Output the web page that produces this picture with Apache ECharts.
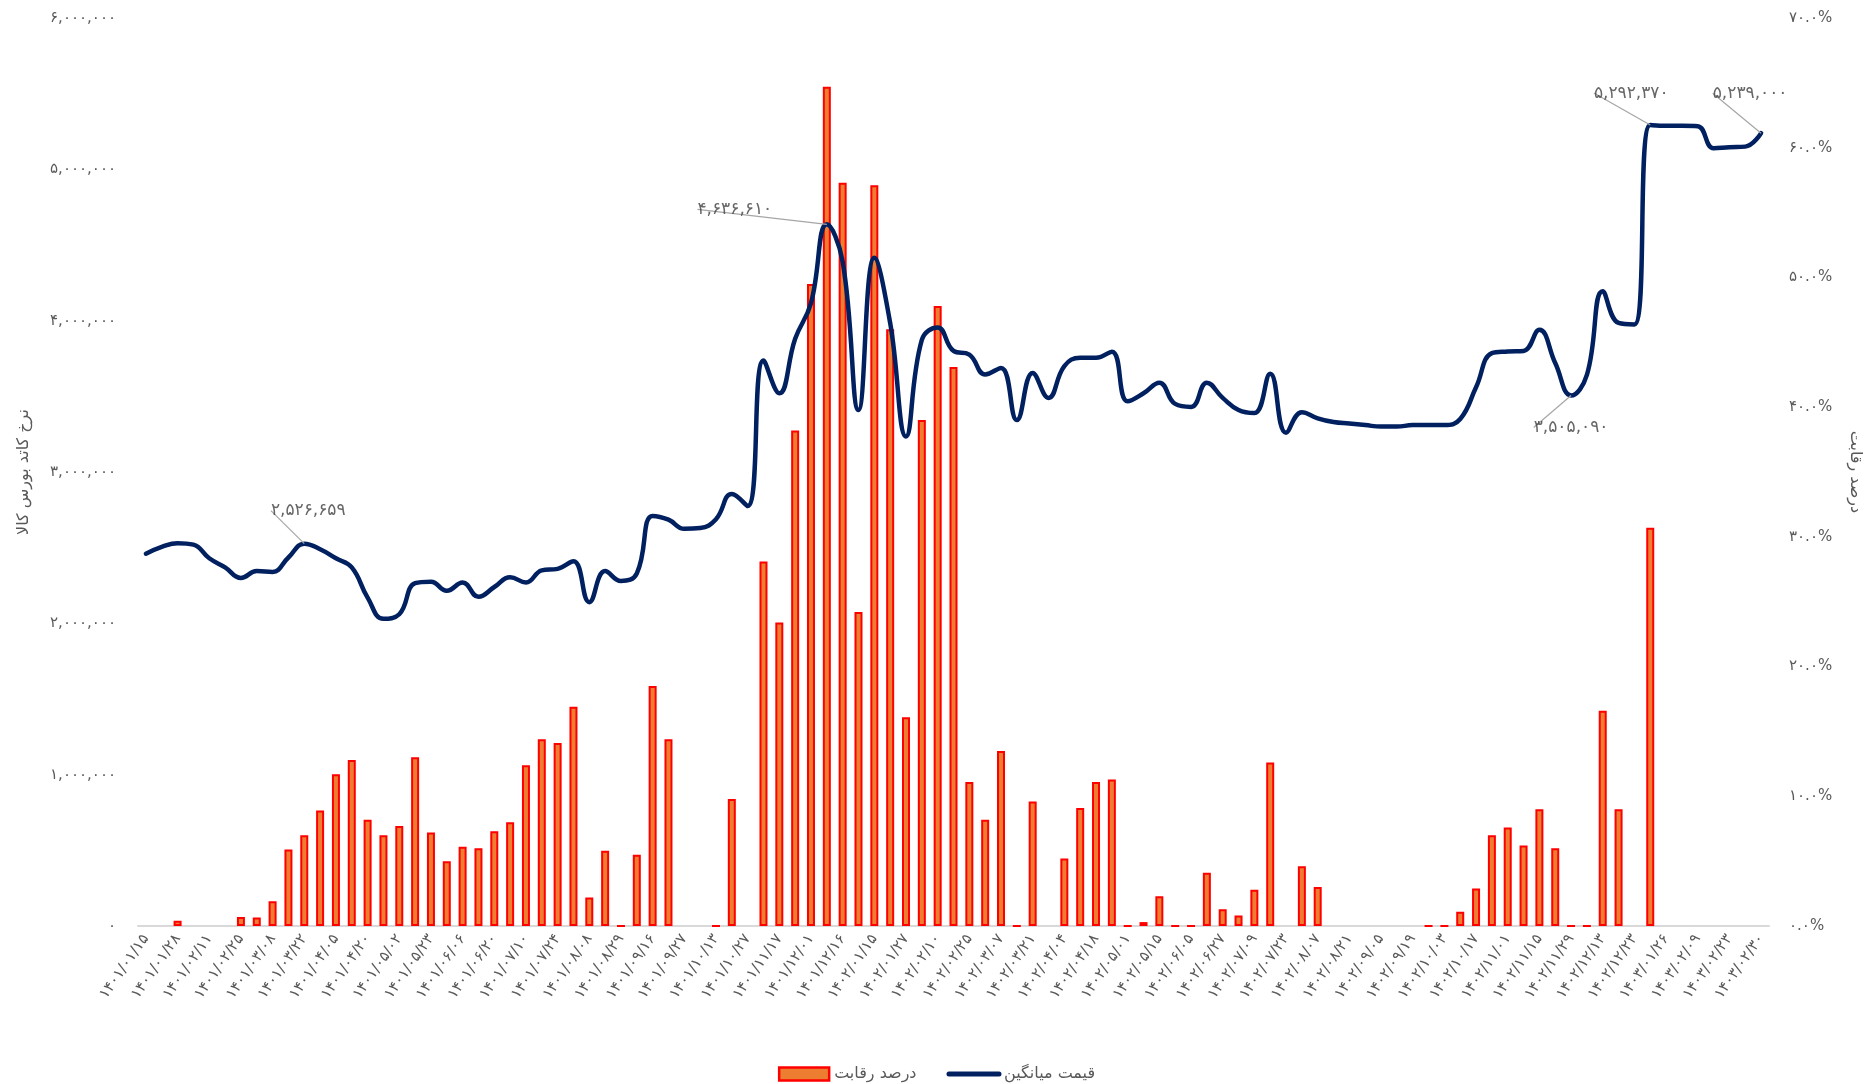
<!DOCTYPE html>
<html>
<head>
<meta charset="utf-8">
<script src="https://cdn.jsdelivr.net/npm/echarts@6/dist/echarts.min.js"></script>
<style>
  html, body { margin: 0; padding: 0; background: #fff; }
  #chart { width: 1873px; height: 1084px; }
</style>
</head>
<body>
<div id="chart"></div>
<script>
// تاریخ ها (هر دو دسته یک برچسب)
var dateLabels = [
  '1401/01/15', '1401/01/28', '1401/02/11', '1401/02/25', '1401/03/08', '1401/03/22',
  '1401/04/05', '1401/04/20', '1401/05/02', '1401/05/23', '1401/06/06', '1401/06/20',
  '1401/07/10', '1401/07/24', '1401/08/08', '1401/08/29', '1401/09/16', '1401/09/27',
  '1401/10/13', '1401/10/27', '1401/11/17', '1401/12/01', '1401/12/16', '1402/01/15',
  '1402/01/27', '1402/02/10', '1402/02/25', '1402/03/07', '1402/03/21', '1402/04/04',
  '1402/04/18', '1402/05/01', '1402/05/15', '1402/06/05', '1402/06/27', '1402/07/09',
  '1402/07/23', '1402/08/07', '1402/08/21', '1402/09/05', '1402/09/19', '1402/10/03',
  '1402/10/17', '1402/11/01', '1402/11/15', '1402/11/29', '1402/12/13', '1402/12/23',
  '1403/01/26', '1403/02/09', '1403/02/23', '1403/02/30'
];

// قیمت میانگین (ریال)
var priceData = [
  2460000, 2505000, 2530000, 2520000, 2430000, 2370000, 2300000, 2345000, 2340000, 2435000,
  2526659, 2490000, 2430000, 2370000, 2170000, 2030000, 2060000, 2265000, 2275000, 2215000,
  2270000, 2175000, 2240000, 2305000, 2270000, 2350000, 2360000, 2410000, 2140000, 2345000,
  2280000, 2330000, 2710000, 2685000, 2625000, 2630000, 2688000, 2855000, 2775000, 3737000,
  3520000, 3880000, 4116000, 4636610, 4390000, 3410000, 4415000, 3985000, 3235000, 3873000,
  3955000, 3800000, 3776000, 3645000, 3688000, 3343000, 3655000, 3489000, 3700000, 3755000,
  3755000, 3795000, 3467000, 3520000, 3590000, 3450000, 3430000, 3590000, 3490000, 3410000,
  3390000, 3650000, 3260000, 3395000, 3355000, 3330000, 3320000, 3310000, 3300000, 3300000,
  3310000, 3310000, 3310000, 3350000, 3560000, 3785000, 3796000, 3800000, 3940000, 3720000,
  3505090, 3642000, 4195000, 3985000, 3975000, 5292370, 5288000, 5288000, 5285000, 5140000,
  5146000, 5150000, 5239000
];

// درصد رقابت (null = بدون معامله)
var competitionData = [
  null, null, 0.4, null, null, null, 0.7, 0.65, 1.9, 5.9,
  7.0, 8.9, 11.7, 12.8, 8.2, 7.0, 7.7, 13.0, 7.2, 5.0,
  6.1, 6.0, 7.3, 8.0, 12.4, 14.4, 14.1, 16.9, 2.2, 5.8,
  0, 5.5, 18.5, 14.4, null, null, 0, 9.8, null, 28.1,
  23.4, 38.2, 49.5, 64.7, 57.3, 24.2, 57.1, 46.0, 16.1, 39.0,
  47.8, 43.1, 11.1, 8.2, 13.5, 0, 9.6, null, 5.2, 9.1,
  11.1, 11.3, 0, 0.3, 2.3, 0, 0, 4.1, 1.3, 0.8,
  2.8, 12.6, null, 4.6, 3.0, null, null, null, null, null,
  null, 0, 0, 1.1, 2.9, 7.0, 7.6, 6.2, 9.0, 6.0,
  0, 0, 16.6, 9.0, null, 30.7, null, null, null, null,
  null, null, null
];

// نقاطی که برچسب دارند
var annotatedIdx = [10, 43, 90, 95, 102];

var FONT = 'DejaVu Sans';
var faDigits = '۰۱۲۳۴۵۶۷۸۹';
function toFa(s) {
  return String(s).replace(/[0-9]/g, function (d) { return faDigits[d]; });
}
function withCommas(v) {
  return String(Math.round(v)).replace(/\B(?=(\d{3})+(?!\d))/g, ',');
}

var categories = priceData.map(function (v, i) { return String(i); });

var labelOffsets = {
  10: [4, -33],
  43: [-92, -15],
  90: [0, 32],
  95: [-19, -32],
  102: [-11, -40]
};

var chart = echarts.init(document.getElementById('chart'), null, { renderer: 'canvas' });

var option = {
  backgroundColor: '#ffffff',
  animation: false,
  textStyle: { fontFamily: FONT },
  grid: { left: 138, right: 104, top: 18, bottom: 158 },
  legend: {
    top: 1061,
    left: 'center',
    itemWidth: 50,
    itemHeight: 13,
    itemGap: 30,
    textStyle: { fontSize: 16, color: '#595959', fontFamily: FONT },
    data: [
      { name: 'درصد رقابت', icon: 'rect', itemStyle: { color: '#ED7D31', borderColor: '#FF0000', borderWidth: 2.5 } },
      { name: 'قیمت میانگین', itemStyle: { color: 'rgba(0,0,0,0)', borderWidth: 0 }, lineStyle: { color: '#002060', width: 5 } }
    ]
  },
  xAxis: {
    type: 'category',
    data: categories,
    boundaryGap: true,
    axisLine: { show: true, lineStyle: { color: '#D9D9D9', width: 2 } },
    axisTick: { show: false },
    splitLine: { show: false },
    axisLabel: {
      interval: 1,
      rotate: 55,
      margin: 10,
      fontSize: 15,
      color: '#595959',
      fontFamily: FONT,
      formatter: function (value, index) {
        var k = index / 2;
        return dateLabels[k] ? toFa(dateLabels[k]) : '';
      }
    }
  },
  yAxis: [{
    type: 'value',
    min: 0,
    max: 6000000,
    interval: 1000000,
    name: 'نرخ کاتد بورس کالا',
    nameLocation: 'middle',
    nameGap: 106,
    nameRotate: 90,
    nameTextStyle: { fontSize: 16, color: '#595959', fontFamily: FONT },
    axisLine: { show: false },
    axisTick: { show: false },
    splitLine: { show: false },
    axisLabel: {
      fontSize: 15,
      color: '#595959',
      margin: 22,
      fontFamily: FONT,
      formatter: function (v) { return toFa(withCommas(v)); }
    }
  }, {
    type: 'value',
    position: 'right',
    min: 0,
    max: 70,
    interval: 10,
    name: 'درصد رقابت',
    nameLocation: 'middle',
    nameGap: 78,
    nameRotate: -90,
    nameTextStyle: { fontSize: 16, color: '#595959', fontFamily: FONT },
    axisLine: { show: false },
    axisTick: { show: false },
    splitLine: { show: false },
    axisLabel: {
      fontSize: 15,
      color: '#595959',
      margin: 20,
      fontFamily: FONT,
      formatter: function (v) { return toFa(v.toFixed(1)) + '%'; }
    }
  }],
  series: [{
    name: 'درصد رقابت',
    type: 'bar',
    yAxisIndex: 1,
    barWidth: 8,
    itemStyle: { color: '#ED7D31', borderColor: '#FF0000', borderWidth: 2 },
    data: competitionData.map(function (v) { return v === null ? '-' : v; })
  }, {
    name: 'قیمت میانگین',
    type: 'line',
    yAxisIndex: 0,
    smooth: 0.45,
    symbol: 'none',
    lineStyle: { color: '#002060', width: 4.5, cap: 'round', join: 'round' },
    itemStyle: { color: '#002060' },
    data: priceData
  }, {
    name: 'برچسب',
    type: 'scatter',
    yAxisIndex: 0,
    symbolSize: 0,
    silent: true,
    z: 5,
    label: {
      show: true,
      position: 'inside',
      fontSize: 17,
      color: '#404040',
      fontFamily: FONT,
      formatter: function (p) { return toFa(withCommas(p.value)); }
    },
    labelLine: { show: true, lineStyle: { color: '#A6A6A6', width: 1.2 } },
    labelLayout: function (params) {
      var off = labelOffsets[params.dataIndex] || [0, 0];
      return { dx: off[0], dy: off[1] };
    },
    data: priceData.map(function (v, i) { return annotatedIdx.indexOf(i) >= 0 ? v : '-'; })
  }]
};

chart.setOption(option);
</script>
</body>
</html>
